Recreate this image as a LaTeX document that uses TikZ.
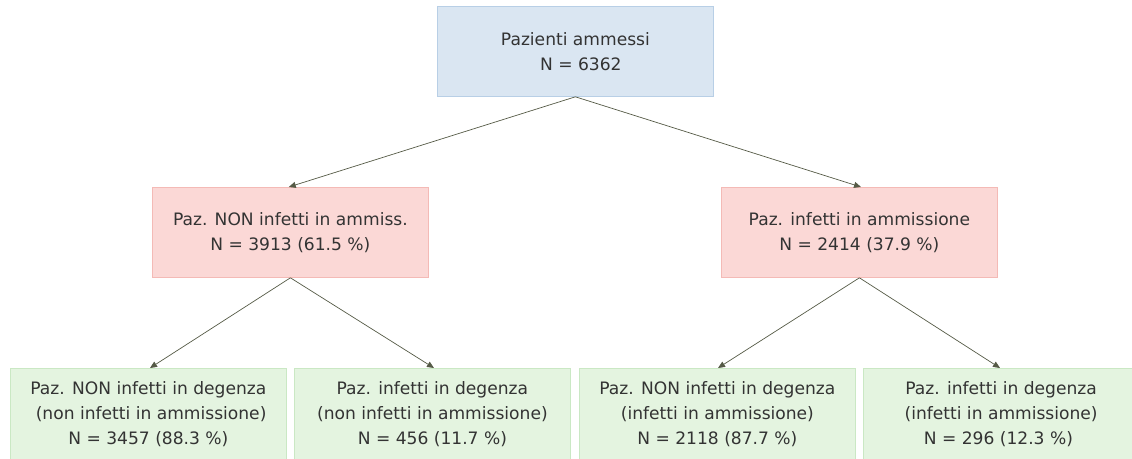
\documentclass[tikz,border=0pt]{standalone}
\usepackage{fontspec}
\setmainfont{DejaVu Sans}
\usetikzlibrary{arrows.meta}
\definecolor{bluefill}{RGB}{218,230,242}
\definecolor{blueline}{RGB}{184,207,230}
\definecolor{pinkfill}{RGB}{251,216,214}
\definecolor{pinkline}{RGB}{244,186,182}
\definecolor{greenfill}{RGB}{228,244,224}
\definecolor{greenline}{RGB}{202,232,196}
\definecolor{txt}{RGB}{51,51,51}
\definecolor{arr}{RGB}{85,90,70}
\tikzset{
  box/.style={draw, line width=0.8pt, minimum width=276pt, minimum height=90pt, inner sep=0pt,
    align=center, text=txt, font=\fontsize{17.1}{24.8}\selectfont, anchor=north west},
  topbox/.style={box, fill=bluefill, draw=blueline},
  midbox/.style={box, fill=pinkfill, draw=pinkline},
  botbox/.style={box, fill=greenfill, draw=greenline},
  conn/.style={draw=arr, line width=0.7pt, -{Triangle[length=7pt,width=6pt]}}
}
\begin{document}
\begin{tikzpicture}[x=1pt,y=-1pt]
\useasboundingbox (0,0) rectangle (1132,458);
\node[topbox] (top) at (437,6) {Pazienti ammessi\\ \ \ N = 6362};
\node[midbox] (ml) at (152,187) {Paz. NON infetti in ammiss.\\N = 3913 (61.5 \%)};
\node[midbox] (mr) at (721,187) {Paz. infetti in ammissione\\N = 2414 (37.9 \%)};
\node[botbox, minimum height=92pt] (b1) at (10,368) {Paz. NON infetti in degenza\\ \ (non infetti in ammissione)\\N = 3457 (88.3 \%)};
\node[botbox, minimum height=92pt] (b2) at (294,368) {Paz. infetti in degenza\\(non infetti in ammissione)\\N = 456 (11.7 \%)};
\node[botbox, minimum height=92pt] (b3) at (579,368) {Paz. NON infetti in degenza\\(infetti in ammissione)\\N = 2118 (87.7 \%)};
\node[botbox, minimum height=92pt, minimum width=270pt] (b4) at (863,368) {\ Paz. infetti in degenza\\ \ (infetti in ammissione)\\N = 296 (12.3 \%)};
\draw[conn] (top.south) -- ([xshift=-140pt]ml.north east);
\draw[conn] (top.south) -- ([xshift=140pt]mr.north west);
\draw[conn] (ml.south) -- ([xshift=140pt]b1.north west);
\draw[conn] (ml.south) -- ([xshift=140pt]b2.north west);
\draw[conn] (mr.south) -- ([xshift=139pt]b3.north west);
\draw[conn] (mr.south) -- ([xshift=137pt]b4.north west);
\end{tikzpicture}
\end{document}
